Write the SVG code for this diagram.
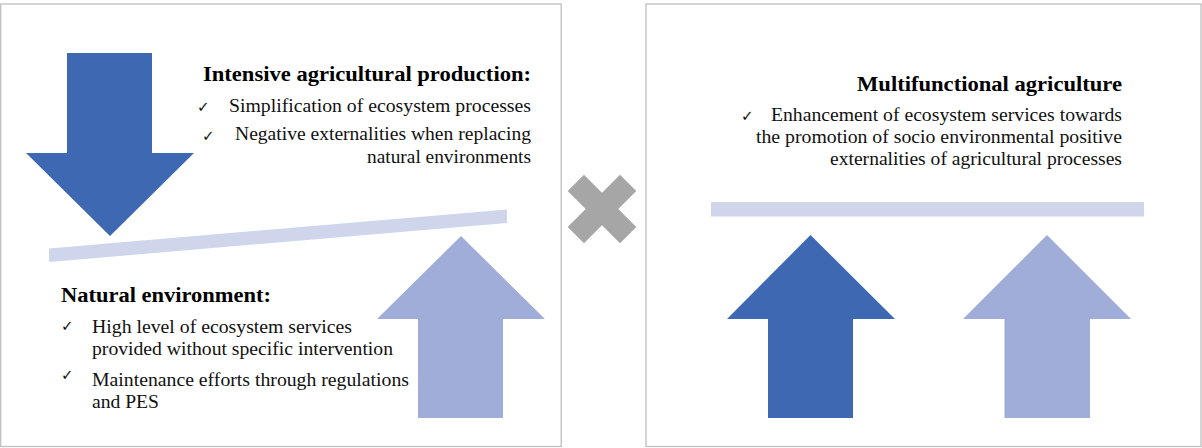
<svg xmlns="http://www.w3.org/2000/svg" width="1202" height="448" viewBox="0 0 1202 448">
  <style>
    .panel { fill: #ffffff; stroke: #bfbfbf; stroke-width: 1.3; }
    .dark { fill: #3e68b1; }
    .light { fill: #9fadd8; }
    .bar { fill: #cfd6eb; }
    .cross { fill: #a6a6a6; }
    .title { font-family: "Liberation Serif", "Times New Roman", serif; font-weight: bold; font-size: 20px; fill: #000; }
    .body { font-family: "Liberation Serif", "Times New Roman", serif; font-size: 18px; fill: #111; }
    .tick { font-family: "DejaVu Sans", sans-serif; font-size: 15px; fill: #111; }
  </style>
  <rect width="1202" height="448" fill="#ffffff"/>

  <!-- Left panel: intensive agriculture vs natural environment -->
  <g id="panel-left">
    <rect class="panel" x="0.7" y="4" width="560.5" height="442.5"/>
    <polygon class="bar" points="49,248.5 507,209.5 507,223 49,262"/>
  </g>

  <g id="arrow-down">
    <polygon class="dark" points="67,53 152,53 152,153 194,153 110,236 26,153 67,153"/>
  </g>

  <g id="arrow-up-left">
    <polygon class="light" points="461,236 545,319 503,319 503,418 418,418 418,319 377,319"/>
  </g>

  <g id="intensive-text">
    <text class="title" x="203" y="81" textLength="328" lengthAdjust="spacingAndGlyphs">Intensive agricultural production:</text>
    <text class="tick" x="197" y="112">✓</text>
    <text class="body" x="229" y="111.5" textLength="302" lengthAdjust="spacingAndGlyphs">Simplification of ecosystem processes</text>
    <text class="tick" x="202" y="141">✓</text>
    <text class="body" x="235" y="140" textLength="296" lengthAdjust="spacingAndGlyphs">Negative externalities when replacing</text>
    <text class="body" x="367" y="162.5" textLength="164" lengthAdjust="spacingAndGlyphs">natural environments</text>
  </g>

  <g id="natural-text">
    <text class="title" x="61" y="302" textLength="210" lengthAdjust="spacingAndGlyphs">Natural environment:</text>
    <text class="tick" x="61" y="331">✓</text>
    <text class="body" x="92" y="332.5" textLength="260" lengthAdjust="spacingAndGlyphs">High level of ecosystem services</text>
    <text class="body" x="92" y="354.5" textLength="301" lengthAdjust="spacingAndGlyphs">provided without specific intervention</text>
    <text class="tick" x="61" y="380">✓</text>
    <text class="body" x="92" y="385.5" textLength="317" lengthAdjust="spacingAndGlyphs">Maintenance efforts through regulations</text>
    <text class="body" x="92" y="407.5" textLength="67" lengthAdjust="spacingAndGlyphs">and PES</text>
  </g>

  <!-- Multiplication sign between the panels -->
  <g id="cross">
    <polygon class="cross" points="602,192.7 620,174.7 636.3,191 618.3,209 636.3,227 620,243.3 602,225.3 584,243.3 567.7,227 585.7,209 567.7,191 584,174.7"/>
  </g>

  <!-- Right panel: multifunctional agriculture -->
  <g id="panel-right">
    <rect class="panel" x="646" y="4" width="555" height="442.5"/>
    <rect class="bar" x="711" y="202" width="433" height="14.5"/>
  </g>

  <g id="multifunctional-text">
    <text class="title" x="857" y="91" textLength="265" lengthAdjust="spacingAndGlyphs">Multifunctional agriculture</text>
    <text class="tick" x="741" y="121">✓</text>
    <text class="body" x="771" y="121" textLength="351" lengthAdjust="spacingAndGlyphs">Enhancement of ecosystem services towards</text>
    <text class="body" x="756" y="143" textLength="366" lengthAdjust="spacingAndGlyphs">the promotion of socio environmental positive</text>
    <text class="body" x="830" y="165" textLength="292" lengthAdjust="spacingAndGlyphs">externalities of agricultural processes</text>
  </g>

  <g id="arrow-up-dark">
    <polygon class="dark" points="810.5,235 895,319 853,319 853,418 768,418 768,319 727,319"/>
  </g>

  <g id="arrow-up-light">
    <polygon class="light" points="1047,235 1131,319 1090,319 1090,418 1004.5,418 1004.5,319 963,319"/>
  </g>
</svg>
